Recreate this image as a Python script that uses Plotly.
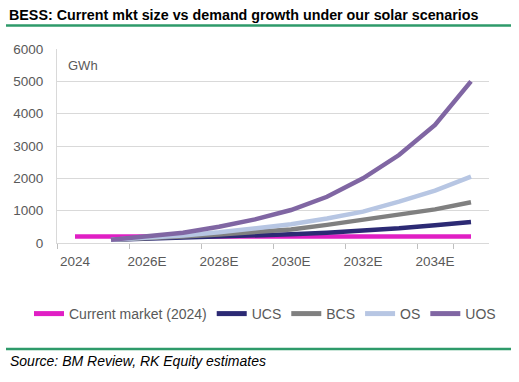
import plotly.graph_objects as go

years = ["2024", "2025E", "2026E", "2027E", "2028E", "2029E", "2030E",
         "2031E", "2032E", "2033E", "2034E", "2035E"]
tick_labels = ["2024", "2026E", "2028E", "2030E", "2032E", "2034E"]

current_market = [200, 200, 200, 200, 200, 200, 200, 200, 200, 200, 200, 200]
ucs = [None, 100, 130, 170, 200, 230, 270, 320, 380, 455, 550, 650]
bcs = [None, 100, 140, 200, 260, 340, 420, 560, 710, 870, 1040, 1260]
os_ = [None, 100, 150, 230, 330, 440, 580, 760, 970, 1280, 1620, 2050]
uos = [None, 100, 200, 320, 505, 730, 1020, 1430, 2000, 2720, 3650, 5000]

series = [
    ("Current market (2024)", current_market, "#E01FC4"),
    ("UCS", ucs, "#2C2A74"),
    ("BCS", bcs, "#808080"),
    ("OS", os_, "#B7C6E3"),
    ("UOS", uos, "#8066A3"),
]

fig = go.Figure()
for name, vals, col in series:
    fig.add_trace(go.Scatter(x=years, y=vals, name=name, mode="lines",
                             line=dict(color=col, width=4.5),
                             connectgaps=False))

L, R, T, B = 57, 489, 49, 243
W, H = 519, 382
pw, ph = R - L, B - T

def px(x):
    return (x - L) / pw

def py(y):
    return (B - y) / ph

font = "Liberation Sans, Arial, sans-serif"

fig.update_layout(
    width=W, height=H,
    margin=dict(l=L, r=W - R, t=T, b=H - B),
    paper_bgcolor="white", plot_bgcolor="white",
    font=dict(family=font, color="#595959", size=13),
    showlegend=True,
    legend=dict(orientation="h", x=px(29), xanchor="left", y=py(314), yanchor="middle",
                font=dict(size=14, color="#595959"), tracegroupgap=0, itemsizing="constant"),
    xaxis=dict(type="category", categoryorder="array", categoryarray=years,
               tickvals=tick_labels, ticktext=tick_labels, tickson="boundaries",
               tickangle=0,
               ticks="outside", ticklen=5, tickcolor="#BFBFBF",
               showline=True, linecolor="#D9D9D9", linewidth=1,
               showgrid=False, tickfont=dict(size=13.5, color="#595959"),
               ticklabelstandoff=6,
               range=[-0.5, 11.5]),
    yaxis=dict(range=[0, 6000], dtick=1000, showgrid=True, gridcolor="#D9D9D9",
               showline=True, linecolor="#D9D9D9", zeroline=False,
               tickfont=dict(size=13.5, color="#595959"), ticks="", ticklabelstandoff=10),
)

fig.add_annotation(text="GWh", xref="paper", yref="paper", x=px(66), y=py(65),
                   xanchor="left", yanchor="middle", showarrow=False,
                   font=dict(size=13, color="#595959", family=font))
fig.add_annotation(text="<b>BESS: Current mkt size vs demand growth under our solar scenarios</b>",
                   xref="paper", yref="paper", x=px(7), y=py(15.5),
                   xanchor="left", yanchor="middle", showarrow=False,
                   font=dict(size=14.3, color="#000000", family=font))
fig.add_annotation(text="<i>Source: BM Review, RK Equity estimates</i>",
                   xref="paper", yref="paper", x=px(8), y=py(361),
                   xanchor="left", yanchor="middle", showarrow=False,
                   font=dict(size=14, color="#000000", family=font))

for yline in (25.5, 349):
    fig.add_shape(type="line", xref="paper", yref="paper",
                  x0=px(6), x1=px(511), y0=py(yline), y1=py(yline),
                  line=dict(color="#2E9A6A", width=2.5))

fig.write_html("out.html", config={"displayModeBar": False},
               post_script="document.body.style.margin='0';")
